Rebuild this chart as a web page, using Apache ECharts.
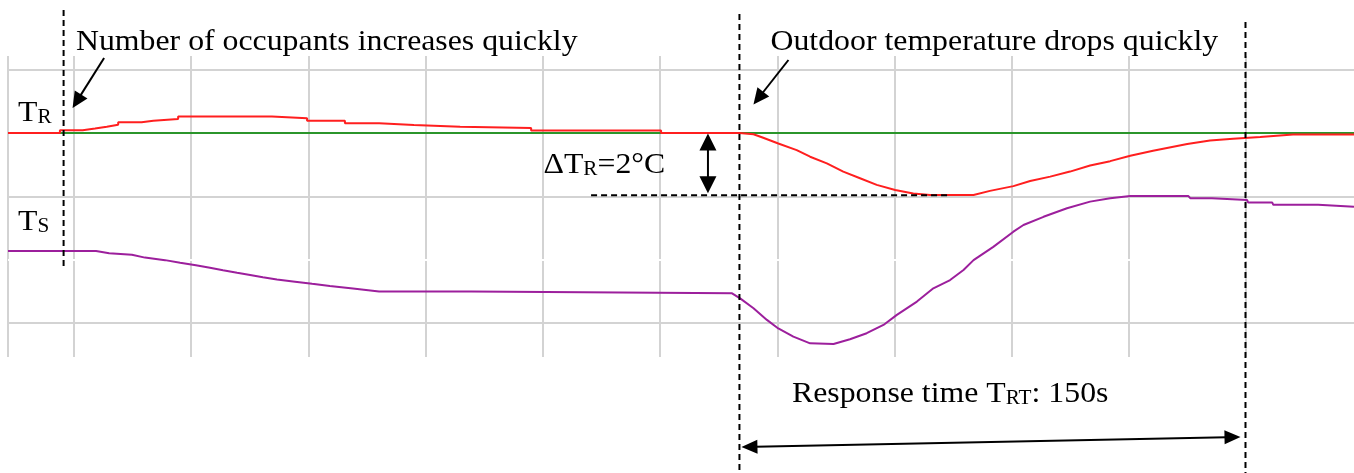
<!DOCTYPE html>
<html>
<head>
<meta charset="utf-8">
<script src="https://cdn.jsdelivr.net/npm/echarts@6/dist/echarts.min.js"></script>
<style>
  html, body { margin: 0; padding: 0; background: #fff; }
  #chart { width: 1354px; height: 473px; }
</style>
</head>
<body>
<div id="chart"></div>
<script>
// Time in seconds; temperatures as deviation (°C) from the room set point.
const timeStart = -19.7, timeEnd = 382.2;
const plotMin = -7.083, plotMax = 2.435;

// Grid divisions: every 35 s, every 2 °C
const gridTimes = [0, 35, 70, 105, 140, 175, 210, 245, 280, 315, 350];
const gridTemps = [2, 0, -2, -4, -6];

const setPoint = [[-19.7, 0], [382.2, 0]];

// Room temperature T_R
const roomTemp = [
  [-19.7, 0], [-4.2, 0], [-4.2, 0.085], [2.6, 0.085], [2.6, 0.14], [6.3, 0.14], [6.3, 0.2],
  [9.8, 0.2], [9.8, 0.26], [13.2, 0.26], [13.2, 0.34], [20.2, 0.34], [20.2, 0.39], [23.7, 0.39],
  [23.7, 0.44], [31.1, 0.44], [31.1, 0.52], [59.1, 0.52], [59.1, 0.47], [69.6, 0.47], [69.6, 0.39],
  [80.9, 0.39], [80.9, 0.31], [91.1, 0.31], [91.1, 0.25], [101.5, 0.25], [101.5, 0.2], [115.3, 0.2],
  [115.3, 0.16], [136.5, 0.16], [136.5, 0.08], [175.3, 0.08], [175.3, 0], [198.7, 0],
  [202.9, -0.04], [205.8, -0.15], [210.3, -0.33], [215.8, -0.54], [219.8, -0.75], [224.8, -0.96],
  [229.7, -1.22], [234.7, -1.43], [239.7, -1.64], [245.2, -1.80], [250.6, -1.91], [255.6, -1.96],
  [268.6, -1.96], [273.5, -1.83], [280.5, -1.68], [285.5, -1.52], [291.5, -1.38], [297.4, -1.22],
  [303.4, -1.03], [309.4, -0.89], [315.4, -0.72], [322.2, -0.56], [332.4, -0.35], [339.2, -0.24],
  [346.1, -0.18], [354.2, -0.13], [364, -0.05], [382.2, -0.05]
];

// Supply air temperature T_S
const supplyTemp = [
  [-19.7, -3.73], [6.6, -3.73], [10.5, -3.80], [17.3, -3.85], [21.2, -3.94], [27.2, -4.02],
  [31.7, -4.10], [36.4, -4.18], [40.6, -4.26], [44.5, -4.34], [48.7, -4.42], [52.6, -4.49],
  [56.4, -4.56], [60.6, -4.63], [66, -4.70], [71.1, -4.77], [76.4, -4.84], [83.3, -4.92],
  [91.1, -5.01], [118.6, -5.01], [118.6, -5.07], [196.5, -5.07], [198.9, -5.23], [202.9, -5.54],
  [206.9, -5.91], [210.3, -6.18], [214.8, -6.44], [219.8, -6.65], [226.8, -6.67], [231.7, -6.52],
  [236.7, -6.33], [241.7, -6.07], [245.7, -5.75], [251.7, -5.33], [256.6, -4.91], [261.6, -4.65],
  [265.6, -4.33], [268.6, -4.02], [274.5, -3.60], [280.5, -3.12], [283.5, -2.91], [289.5, -2.65],
  [296.5, -2.38], [303.4, -2.17], [309.4, -2.06], [315.4, -1.99], [332.7, -1.99], [333.3, -2.06],
  [339.8, -2.06], [340.2, -2.12], [350.3, -2.12], [350.6, -2.2], [357.8, -2.2], [358.1, -2.27],
  [371.5, -2.27], [371.8, -2.33], [382.2, -2.33]
];

// Events and the measured response
const occupantsEventT = -3.1;
const outdoorEventT = 198.7;
const settledT = 349.8;
const deltaTR = -2;
const deltaLineStartT = 154.4;
const deltaLineEndT = 261;
const deltaArrowT = 189.3;

const textOccupants = 'Number of occupants increases quickly';
const textOutdoor = 'Outdoor temperature drops quickly';
const textResponse = ['Response time T', 'RT', ': 150s'];
const textDelta = ['\u0394T', 'R', '=2\u00B0C'];
const textRoom = ['T', 'R'];
const textSupply = ['T', 'S'];

const SERIF = '"Liberation Serif", "Times New Roman", serif';
const GRID_GRAY = '#d3d3d3';

const chart = echarts.init(document.getElementById('chart'), null, { renderer: 'canvas' });

// Grid lines: left border, vertical divisions, then horizontal rows (the -4 °C row is blank white)
const gridLineData = [{ xAxis: timeStart }]
  .concat(gridTimes.map(t => ({ xAxis: t })))
  .concat(gridTemps.map(v => (v === -4
    ? { yAxis: v, lineStyle: { color: '#ffffff', width: 2 } }
    : { yAxis: v })));

const option = {
  animation: false,
  backgroundColor: '#fff',
  grid: { left: 8, right: 0, top: 56, bottom: 116, containLabel: false },
  xAxis: {
    type: 'value', min: timeStart, max: timeEnd,
    axisLine: { show: false }, axisTick: { show: false }, axisLabel: { show: false },
    splitLine: { show: false }
  },
  yAxis: {
    type: 'value', min: plotMin, max: plotMax,
    axisLine: { show: false }, axisTick: { show: false }, axisLabel: { show: false },
    splitLine: { show: false }
  },
  series: [
    {
      name: 'Grid', type: 'line', data: setPoint, symbol: 'none', z: 1, silent: true,
      lineStyle: { opacity: 0 },
      markLine: {
        z: 1, silent: true, symbol: 'none', animation: false,
        label: { show: false },
        lineStyle: { color: GRID_GRAY, width: 2, type: 'solid' },
        emphasis: { disabled: true },
        data: gridLineData
      }
    },
    {
      name: 'Set point', type: 'line', data: setPoint,
      symbol: 'none', lineStyle: { color: '#2b952b', width: 2 }, z: 3, silent: true
    },
    {
      name: 'T_R', type: 'line', data: roomTemp,
      symbol: 'none', lineStyle: { color: '#ff1f1f', width: 2 }, z: 4, silent: true
    },
    {
      name: 'T_S', type: 'line', data: supplyTemp,
      symbol: 'none', lineStyle: { color: '#9c1f9c', width: 2 }, z: 4, silent: true
    }
  ]
};

chart.setOption(option);

const toPx = (t, v) => chart.convertToPixel({ gridIndex: 0 }, [t, v]);

function seg(x1, y1, x2, y2, dashed) {
  return {
    type: 'line', silent: true, z: 20,
    shape: { x1: x1, y1: y1, x2: x2, y2: y2 },
    style: { stroke: '#000', lineWidth: 2, lineDash: dashed ? [6, 4] : null }
  };
}

function head(tip, ux, uy, len, wid) {
  const bx = tip[0] - ux * len, by = tip[1] - uy * len;
  return {
    type: 'polygon', silent: true, z: 21,
    shape: { points: [tip, [bx - uy * wid / 2, by + ux * wid / 2], [bx + uy * wid / 2, by - ux * wid / 2]] },
    style: { fill: '#000' }
  };
}

// Single-headed arrow from tail to tip
function arrow(tail, tip, len, wid) {
  const dx = tip[0] - tail[0], dy = tip[1] - tail[1];
  const d = Math.hypot(dx, dy), ux = dx / d, uy = dy / d;
  return [
    seg(tail[0], tail[1], tip[0] - ux * (len - 2), tip[1] - uy * (len - 2), false),
    head(tip, ux, uy, len, wid)
  ];
}

// Arrow with heads at both ends
function doubleArrow(a, b, len, wid) {
  const dx = b[0] - a[0], dy = b[1] - a[1];
  const d = Math.hypot(dx, dy), ux = dx / d, uy = dy / d;
  return [
    seg(a[0] + ux * (len - 2), a[1] + uy * (len - 2), b[0] - ux * (len - 2), b[1] - uy * (len - 2), false),
    head(a, -ux, -uy, len, wid),
    head(b, ux, uy, len, wid)
  ];
}

// Serif label; parts alternate normal / subscript text
function label(x, top, parts) {
  let txt = '';
  parts.forEach((p, i) => { txt += (i % 2 === 0 ? '{m|' : '{s|') + p + '}'; });
  return {
    type: 'text', silent: true, z: 22, x: x, y: top, scaleX: 1.06,
    style: {
      text: txt, verticalAlign: 'top', align: 'left',
      rich: {
        m: { fontSize: 30, fontFamily: SERIF, fill: '#000', lineHeight: 30, verticalAlign: 'bottom' },
        s: { fontSize: 20, fontFamily: SERIF, fill: '#000', lineHeight: 15, verticalAlign: 'bottom' }
      }
    }
  };
}

const occX = toPx(occupantsEventT, 0)[0];
const outX = toPx(outdoorEventT, 0)[0];
const setX = toPx(settledT, 0)[0];
const zeroY = toPx(0, 0)[1];
const deltaY = toPx(0, deltaTR)[1];
const dlx1 = toPx(deltaLineStartT, 0)[0];
const dlx2 = toPx(deltaLineEndT, 0)[0];
const daX = toPx(deltaArrowT, 0)[0];

const graphics = [].concat(
  [seg(occX, 10, occX, 266, true)],
  [seg(outX, 14, outX, 473, true)],
  [seg(setX, 22, setX, 473, true)],
  [seg(dlx1, deltaY - 1, dlx2, deltaY - 1, true)],
  arrow([occX + 40.5, 58], [occX + 9, 108], 16, 15),
  arrow([outX + 49, 60], [outX + 14, 104.5], 16, 15),
  doubleArrow([daX, zeroY + 0.5], [daX, deltaY - 3], 17, 17),
  doubleArrow([outX + 2, 447], [setX - 5, 437], 16, 14),
  [
    label(76, 27, [textOccupants]),
    label(770.5, 27, [textOutdoor]),
    label(18, 98, textRoom),
    label(18, 207, textSupply),
    label(543.5, 150, textDelta),
    label(792, 379, textResponse)
  ]
);

chart.setOption({ graphic: { elements: graphics } });
</script>
</body>
</html>
